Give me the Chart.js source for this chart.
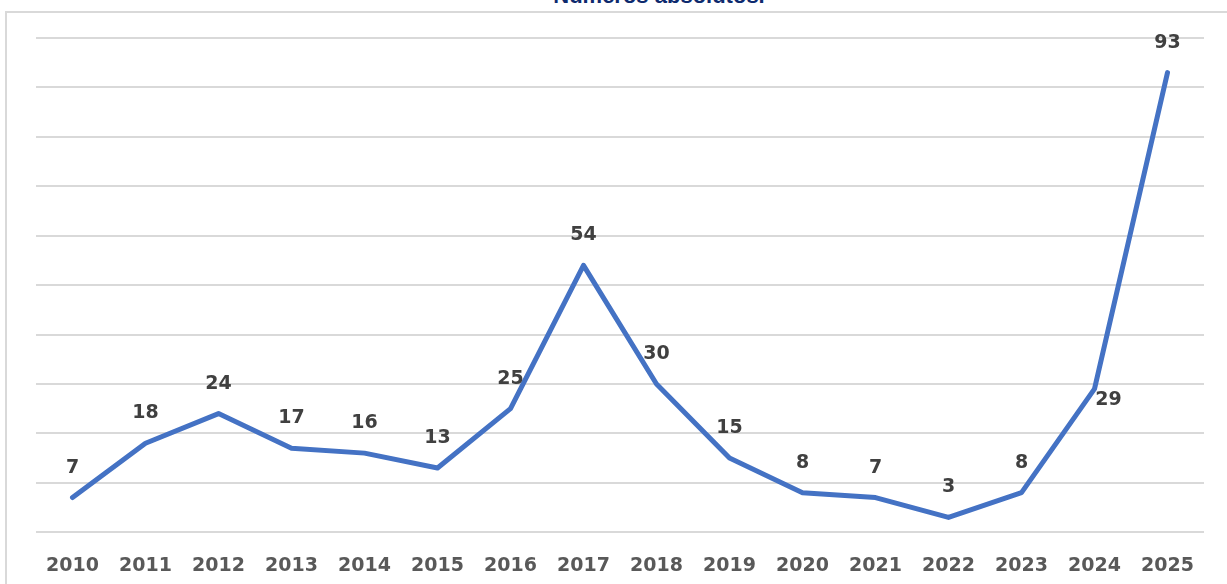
<!DOCTYPE html>
<html>
<head>
<meta charset="utf-8">
<script src="https://cdn.jsdelivr.net/npm/chart.js@4.4.1/dist/chart.umd.min.js"></script>
<style>
  body { margin: 0; width: 1227px; height: 584px; overflow: hidden; background: #fff; position: relative; }
  #frame { position: absolute; left: 5px; top: 11px; width: 1240px; height: 600px; border-left: 2px solid #d9d9d9; border-top: 2px solid #d9d9d9; }
  #title { position: absolute; left: 0; width: 1318px; top: -17px; text-align: center; font: bold 22px "Liberation Sans", Arial, sans-serif; color: #0e2a6e; }
  #wrap { position: absolute; left: 0; top: 0; width: 1227px; height: 603px; }
</style>
</head>
<body>
<div id="frame"></div>
<div id="title">Números absolutos.</div>
<div id="wrap"><canvas id="chart"></canvas></div>
<script>
/* ===== DATA ===== */
const years = ["2010", "2011", "2012", "2013", "2014", "2015", "2016", "2017",
  "2018", "2019", "2020", "2021", "2022", "2023", "2024", "2025"];
const cases = [7, 18, 24, 17, 16, 13, 25, 54, 30, 15, 8, 7, 3, 8, 29, 93];
const yMin = 0;
const yMax = 100;
const yStep = 10;

/* ===== VALUE LABELS ===== */
const valueLabels = {
  id: "valueLabels",
  afterDatasetsDraw(chart, args, opts) {
    const ctx = chart.ctx;
    const meta = chart.getDatasetMeta(0);
    ctx.save();
    ctx.font = opts.font;
    ctx.fillStyle = opts.color;
    ctx.textAlign = "center";
    ctx.textBaseline = "middle";
    meta.data.forEach((pt, i) => {
      const shift = opts.shifts[i] || { dx: 0, dy: -opts.offset };
      ctx.fillText(String(cases[i]), pt.x + shift.dx, pt.y + shift.dy);
    });
    ctx.restore();
  }
};

new Chart(document.getElementById("chart"), {
  type: "line",
  data: {
    labels: years,
    datasets: [{
      data: cases,
      borderColor: "#4472c4",
      borderWidth: 5,
      borderCapStyle: "round",
      borderJoinStyle: "round",
      pointRadius: 0,
      tension: 0,
      fill: false
    }]
  },
  options: {
    responsive: true,
    maintainAspectRatio: false,
    animation: false,
    layout: { padding: { left: 36, right: 23, top: 38, bottom: 4 } },
    plugins: {
      legend: { display: false },
      tooltip: { enabled: false },
      valueLabels: {
        font: "bold 19px 'DejaVu Sans', sans-serif",
        color: "#404040",
        offset: 30,
        shifts: { 14: { dx: 14, dy: 11 } }
      }
    },
    scales: {
      x: {
        offset: true,
        grid: { display: false, drawTicks: false },
        border: { display: false },
        ticks: {
          color: "#595959",
          font: { family: "'DejaVu Sans', sans-serif", size: 19, weight: "bold" },
          padding: 22,
          maxRotation: 0,
          autoSkip: false
        }
      },
      y: {
        min: yMin,
        max: yMax,
        ticks: { display: false, stepSize: yStep },
        grid: { color: "#d9d9d9", lineWidth: 2, drawTicks: false },
        border: { display: false }
      }
    }
  },
  plugins: [valueLabels]
});
</script>
</body>
</html>
